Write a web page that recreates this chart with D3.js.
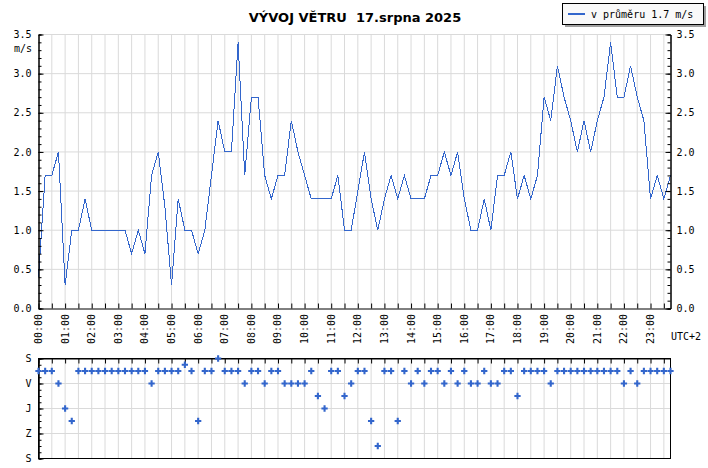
<!DOCTYPE html>
<html>
<head>
<meta charset="utf-8">
<script src="https://cdn.jsdelivr.net/npm/d3@7"></script>
<style>
  body { margin: 0; background: #fff; }
  svg text { font-family: "DejaVu Sans Mono", monospace; font-size: 10px; fill: #000; }
  .title { font-family: "DejaVu Sans", sans-serif; font-weight: bold; font-size: 13px; white-space: pre; }
  .grid line { stroke: #dadada; stroke-width: 1; }
</style>
</head>
<body>
<svg id="chart" width="708" height="468"></svg>
<script>
// rychlost větru po 15 minutách (m/s), 00:00 .. 23:45
const speed = [
  0.4, 1.7, 1.7, 2.0, 0.3, 1.0, 1.0, 1.4, 1.0, 1.0, 1.0, 1.0,
  1.0, 1.0, 0.7, 1.0, 0.7, 1.7, 2.0, 1.3, 0.3, 1.4, 1.0, 1.0,
  0.7, 1.0, 1.7, 2.4, 2.0, 2.0, 3.4, 1.7, 2.7, 2.7, 1.7, 1.4,
  1.7, 1.7, 2.4, 2.0, 1.7, 1.4, 1.4, 1.4, 1.4, 1.7, 1.0, 1.0,
  1.5, 2.0, 1.4, 1.0, 1.4, 1.7, 1.4, 1.7, 1.4, 1.4, 1.4, 1.7,
  1.7, 2.0, 1.7, 2.0, 1.4, 1.0, 1.0, 1.4, 1.0, 1.7, 1.7, 2.0,
  1.4, 1.7, 1.4, 1.7, 2.7, 2.4, 3.1, 2.7, 2.4, 2.0, 2.4, 2.0,
  2.4, 2.7, 3.4, 2.7, 2.7, 3.1, 2.7, 2.4, 1.4, 1.7, 1.4, 1.7
];

// směr větru (stupně), stejné časy
const dir = [
  45, 45, 45, 90, 180, 225, 45, 45, 45, 45, 45, 45,
  45, 45, 45, 45, 45, 90, 45, 45, 45, 45, 22.5, 45,
  225, 45, 45, 0, 45, 45, 45, 90, 45, 45, 90, 45,
  45, 90, 90, 90, 90, 45, 135, 180, 45, 45, 135, 90,
  45, 45, 225, 315, 45, 45, 225, 45, 90, 45, 90, 45,
  45, 90, 45, 90, 45, 90, 90, 45, 90, 90, 45, 45,
  135, 45, 45, 45, 45, 90, 45, 45, 45, 45, 45, 45,
  45, 45, 45, 45, 90, 45, 90, 45, 45, 45, 45, 45
];

const hourLabels = [
  "00:00", "01:00", "02:00", "03:00", "04:00", "05:00", "06:00", "07:00",
  "08:00", "09:00", "10:00", "11:00", "12:00", "13:00", "14:00", "15:00",
  "16:00", "17:00", "18:00", "19:00", "20:00", "21:00", "22:00", "23:00"
];
const speedTicks = [0, 0.5, 1, 1.5, 2, 2.5, 3, 3.5];
const dirTicks = [0, 90, 180, 270, 360];
const dirLabels = ["S", "V", "J", "Z", "S"];
const avgSpeed = 1.7;
const titleText = "VÝVOJ VĚTRU  17.srpna 2025";

const blue = "#3366cc";
const svg = d3.select("#chart");

const x = d3.scaleLinear().domain([0, 23.75]).range([38.5, 670.5]);
const y = d3.scaleLinear().domain([0, 3.5]).range([308.5, 34.5]);
const yd = d3.scaleLinear().domain([0, 360]).range([358.5, 458.5]);

const halfHours = d3.range(0, 23.75, 0.5);
const minorSpeed = d3.range(0, 3.51, 0.1);
const minorDir = d3.range(0, 361, 22.5);

// titulek
svg.append("text")
  .attr("class", "title")
  .attr("x", 355)
  .attr("y", 22)
  .attr("text-anchor", "middle")
  .text(titleText);

// legenda
svg.append("rect")
  .attr("x", 565).attr("y", 6).attr("width", 141).attr("height", 21)
  .attr("fill", "#a0a0a0");
svg.append("rect")
  .attr("x", 562.5).attr("y", 3.5).attr("width", 141).attr("height", 21)
  .attr("fill", "#f9f9f9").attr("stroke", "#000");
svg.append("line")
  .attr("x1", 568).attr("x2", 585).attr("y1", 14).attr("y2", 14)
  .attr("stroke", blue).attr("stroke-width", 2);
svg.append("text")
  .attr("x", 591).attr("y", 18)
  .text(`v průměru ${avgSpeed.toFixed(1)} m/s`);

// ---- horní graf: rychlost ----
const upper = svg.append("g");

upper.append("g").attr("class", "grid")
  .selectAll("line").data(speedTicks.slice(1)).join("line")
  .attr("x1", x(0)).attr("x2", x(23.75))
  .attr("y1", d => y(d)).attr("y2", d => y(d));

upper.append("g").attr("class", "grid")
  .selectAll("line").data(halfHours.slice(1)).join("line")
  .attr("x1", d => x(d)).attr("x2", d => x(d))
  .attr("y1", y(3.5)).attr("y2", y(0));

const line = d3.line()
  .x((d, i) => x(i * 0.25))
  .y(d => y(d));

upper.append("path")
  .datum(speed)
  .attr("fill", "none")
  .attr("stroke", blue)
  .attr("stroke-width", 1)
  .attr("shape-rendering", "crispEdges")
  .attr("d", line);

function styleAxis(g) {
  g.attr("font-family", "DejaVu Sans Mono").attr("font-size", 10);
  g.select(".domain").attr("stroke", "#000");
  g.selectAll(".tick line").attr("stroke", "#000");
}

// levá osa
upper.append("g")
  .attr("transform", `translate(${x(0)},0)`)
  .call(d3.axisLeft(y).tickValues(minorSpeed).tickSize(-3).tickFormat(""))
  .call(styleAxis);
upper.append("g")
  .attr("transform", `translate(${x(0)},0)`)
  .call(d3.axisLeft(y).tickValues(speedTicks).tickSizeInner(-5).tickSizeOuter(0)
    .tickPadding(7).tickFormat(d3.format(".1f")))
  .call(styleAxis);

// pravá osa
upper.append("g")
  .attr("transform", `translate(${x(23.75)},0)`)
  .call(d3.axisRight(y).tickValues(minorSpeed).tickSize(-3).tickFormat(""))
  .call(styleAxis);
upper.append("g")
  .attr("transform", `translate(${x(23.75)},0)`)
  .call(d3.axisRight(y).tickValues(speedTicks).tickSizeInner(-5).tickSizeOuter(0)
    .tickPadding(6).tickFormat(d3.format(".1f")))
  .call(styleAxis);

upper.append("text")
  .attr("x", 32).attr("y", 52)
  .attr("text-anchor", "end")
  .text("m/s");

// spodní osa času
upper.append("g")
  .attr("transform", `translate(0,${y(0)})`)
  .call(d3.axisBottom(x).tickValues(halfHours).tickSize(-5).tickSizeOuter(0).tickFormat(""))
  .call(styleAxis);

upper.append("g")
  .selectAll("text").data(hourLabels).join("text")
  .attr("transform", (d, i) => `translate(${x(i)},314) rotate(-90)`)
  .attr("text-anchor", "end")
  .attr("dy", "0.35em")
  .text(d => d);

svg.append("text")
  .attr("x", 671).attr("y", 340)
  .text("UTC+2");

// ---- spodní graf: směr ----
const lower = svg.append("g");

lower.append("g").attr("class", "grid")
  .selectAll("line").data([90, 180, 270]).join("line")
  .attr("x1", x(0)).attr("x2", x(23.75))
  .attr("y1", d => yd(d)).attr("y2", d => yd(d));

lower.append("g").attr("class", "grid")
  .selectAll("line").data(halfHours.slice(1)).join("line")
  .attr("x1", d => x(d)).attr("x2", d => x(d))
  .attr("y1", yd(0)).attr("y2", yd(360));

lower.append("rect")
  .attr("x", x(0)).attr("y", yd(0))
  .attr("width", x(23.75) - x(0)).attr("height", yd(360) - yd(0))
  .attr("fill", "none").attr("stroke", "#000");

lower.append("g")
  .attr("transform", `translate(0,${yd(0)})`)
  .call(d3.axisTop(x).tickValues(halfHours).tickSize(-5).tickSizeOuter(0).tickFormat(""))
  .call(styleAxis);

lower.append("g")
  .attr("transform", `translate(${x(0)},0)`)
  .call(d3.axisLeft(yd).tickValues(minorDir).tickSize(-3).tickFormat(""))
  .call(styleAxis);
lower.append("g")
  .attr("transform", `translate(${x(0)},0)`)
  .call(d3.axisLeft(yd).tickValues(dirTicks).tickSizeInner(-5).tickSizeOuter(0)
    .tickPadding(7).tickFormat((d, i) => dirLabels[i]))
  .call(styleAxis);

lower.append("g")
  .selectAll("path").data(dir).join("path")
  .attr("transform", (d, i) => `translate(${x(i * 0.25)},${yd(d)})`)
  .attr("d", d3.symbol(d3.symbolCross, 22))
  .attr("fill", blue);
</script>
</body>
</html>
